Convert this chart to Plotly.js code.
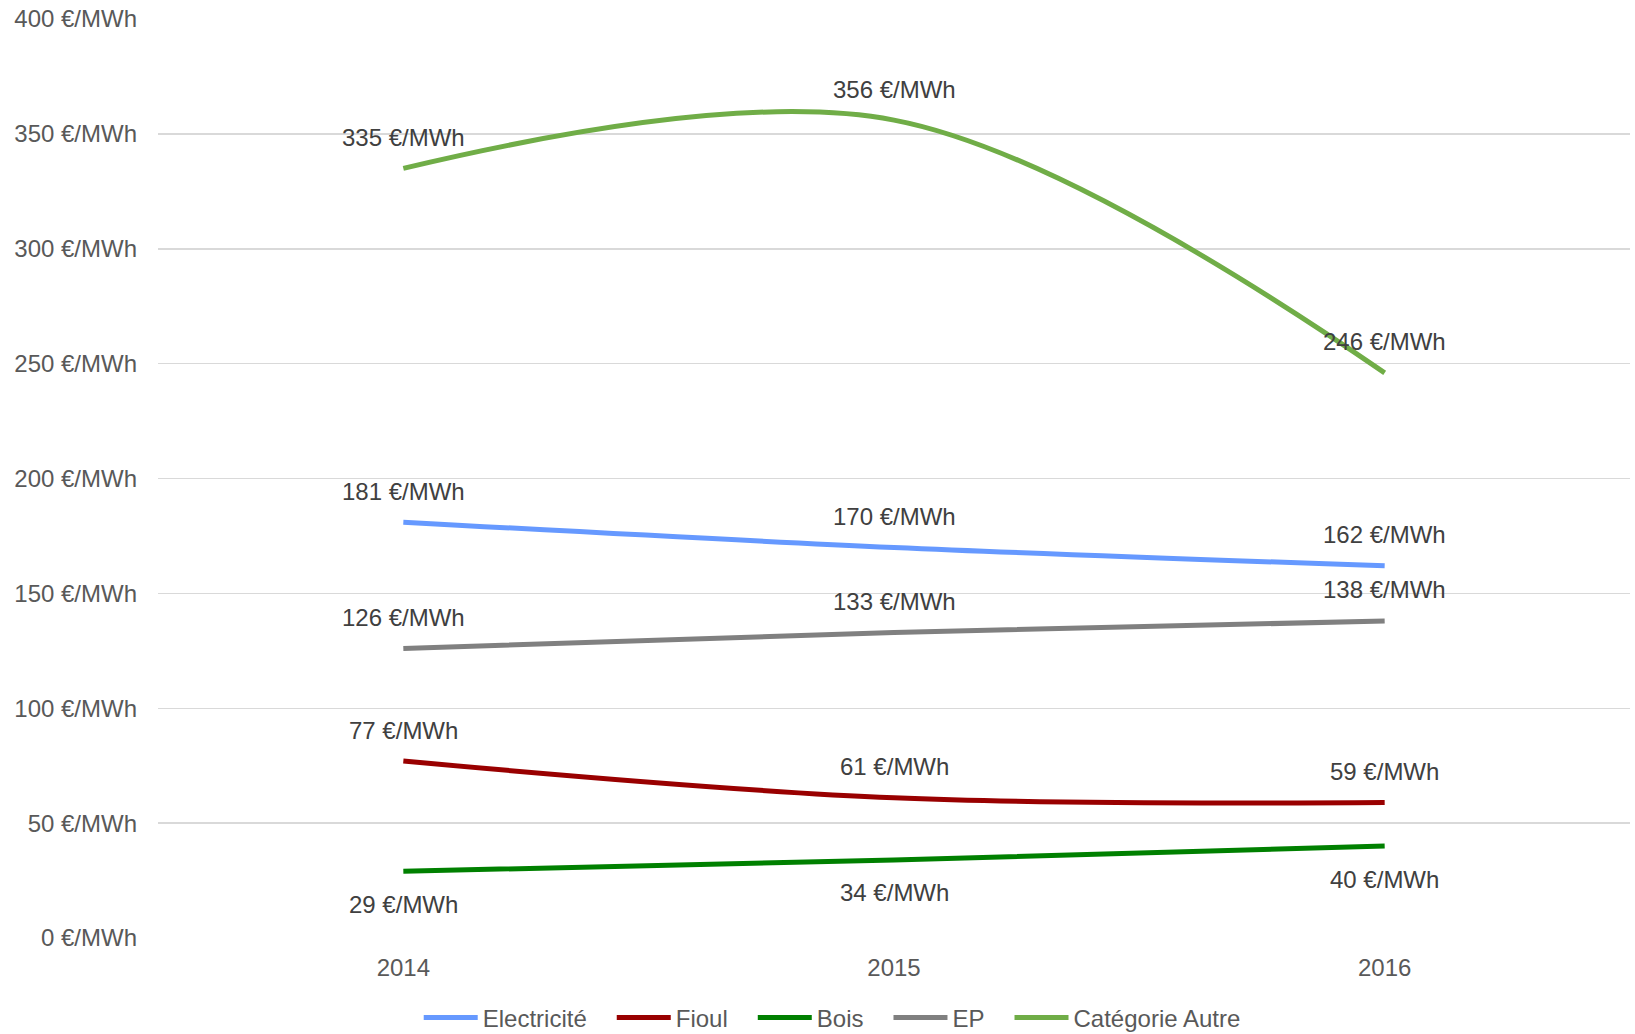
<!DOCTYPE html>
<html>
<head>
<meta charset="utf-8">
<script src="https://cdn.plot.ly/plotly-3.0.1.min.js"></script>
<style>html,body{margin:0;padding:0;background:#fff;}#chart{width:1635px;height:1034px;}</style>
</head>
<body>
<div id="chart"></div>
<script>
const years = ["2014", "2015", "2016"];
const seriesNames = ["Electricité", "Fioul", "Bois", "EP", "Catégorie Autre"];
const electricite = [181, 170, 162];
const fioul = [77, 61, 59];
const bois = [29, 34, 40];
const ep = [126, 133, 138];
const autre = [335, 356, 246];
const yTickValues = [0, 50, 100, 150, 200, 250, 300, 350, 400];
const unit = " €/MWh";

const seriesValues = [electricite, fioul, bois, ep, autre];
const colors = ["#6699FF", "#990000", "#008000", "#808080", "#70AD47"];
const labelBelow = [false, false, true, false, false];

const font = "Liberation Sans, Arial, sans-serif";
const legendPad = "\u00a0\u00a0\u00a0";

const traces = seriesValues.map((vals, i) => ({
  type: "scatter",
  mode: "lines",
  x: years,
  y: vals,
  name: seriesNames[i] + (i < seriesNames.length - 1 ? legendPad : ""),
  line: {color: colors[i], width: 5, shape: "spline", smoothing: 1},
  hoverinfo: "skip"
}));

const annotations = [];
seriesValues.forEach((vals, i) => {
  vals.forEach((v, j) => {
    annotations.push({
      x: j, y: v, xref: "x", yref: "y",
      text: v + unit, showarrow: false,
      yshift: labelBelow[i] ? -33 : 31,
      font: {family: font, size: 24, color: "#404040"}
    });
  });
});

const layout = {
  width: 1635, height: 1034,
  margin: {l: 158, r: 5, t: 19, b: 96},
  paper_bgcolor: "#ffffff", plot_bgcolor: "#ffffff",
  showlegend: true,
  legend: {
    orientation: "h", xref: "container", yref: "container",
    x: 0.509, xanchor: "center", y: 0.0155, yanchor: "middle",
    font: {family: font, size: 24, color: "#595959"},
    itemwidth: 54, tracegroupgap: 0, traceorder: "normal"
  },
  xaxis: {
    type: "category", range: [-0.5, 2.5],
    showgrid: false, zeroline: false, showline: false, ticks: "",
    tickfont: {family: font, size: 24, color: "#595959"},
    ticklabelstandoff: 13
  },
  yaxis: {
    range: [0, 400], tickvals: yTickValues,
    ticktext: yTickValues.map(v => v + unit),
    showgrid: true, gridcolor: "#d9d9d9", gridwidth: 1.5,
    zeroline: false, showline: false, ticks: "",
    tickfont: {family: font, size: 24, color: "#595959"},
    ticklabelstandoff: 20
  },
  annotations: annotations
};

Plotly.newPlot("chart", traces, layout, {displayModeBar: false, staticPlot: true});
</script>
</body>
</html>
